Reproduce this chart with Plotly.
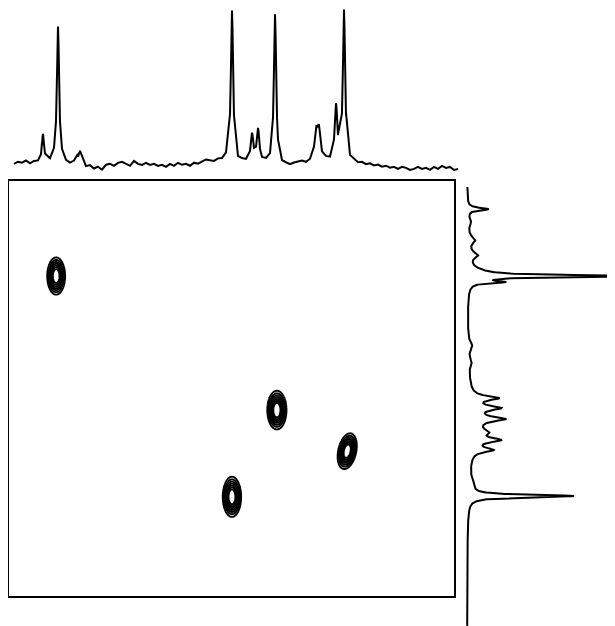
import numpy as np
import plotly.graph_objects as go

# ---------------- data ----------------
# F2 (top) 1D spectrum peak list: position (ppm), height, FWHM (ppm)
top_peak_ppm    = [92.36, 88.99, 84.04, 49.89, 45.39, 44.04, 40.22, 31.01, 30.34, 26.52, 24.72]
top_peak_height = [29, 137, 12, 153, 28, 33, 149, 30, 30, 56, 152]
top_peak_fwhm   = [0.6, 0.6, 1.0, 0.6, 0.7, 0.7, 0.6, 0.8, 0.8, 0.7, 0.6]

# F2 baseline noise, read every ~0.9 ppm from 98.88 to -0.90 ppm
top_baseline = [0, 2, 1, 3, 0, 2, 1, 2, 3, 1, 2, 0, 1, 0, -1, 1, 3, 2, -4, -2,
                -5, -3, -6, -1, 0, -2, 1, 2, 0, -2, 3, 0, -1, 1, -1, 0, -2, -1, -3, 0,
                -2, 1, -1, 0, -2, 1, 0, 2, 4, 3, 2, 4, 3, 4, 2, 1, 0, 2, 1, 0,
                1, -1, 0, 1, 0, 1, -1, -2, -1, -2, 0, 1, 2, 0, 1, 0, 2, 1, 3, 1,
                0, 1, 2, 3, 1, 2, 0, 1, -1, 0, -2, -1, -3, -2, -4, -3, -5, -3, -4, -6,
                -5, -3, -5, -4, -6, -3, -5, -2, -4, -3, -6, -5]
top_baseline_start_ppm = 98.88
top_baseline_end_ppm = -0.90

# F1 (right) projection peak list: position (ppm), height, FWHM (ppm)
side_peak_ppm    = [0.675, 0.988, 1.422, 1.783, 2.193, 2.289, 2.434, 3.952, 4.361,
                    5.880, 5.229, 5.470, 5.735, 6.048, 6.241, 6.482, 7.301, 7.590]
side_peak_height = [21, 3, 7, 9, 10, 165, 30, 4, 3,
                    9, 26, 25, 28, 10, 25, 20, 4, 105]
side_peak_fwhm   = [0.072, 0.19, 0.19, 0.17, 0.24, 0.06, 0.06, 0.19, 0.19,
                    1.2, 0.12, 0.12, 0.12, 0.145, 0.12, 0.12, 0.34, 0.072]
side_start_ppm = 0.145
side_end_ppm = 10.72

# 2D cross peaks: F2 ppm, F1 ppm, widths (sigma, ppm), tilt
cross_f2 = [89.4, 39.8, 24.0, 49.9]
cross_f1 = [2.29, 5.52, 6.51, 7.61]
cross_sig_f2 = [1.12, 1.2, 1.2, 1.15]
cross_sig_f1 = [0.25, 0.26, 0.24, 0.27]
cross_tilt = [0.0, 0.0, 0.3, 0.0]
contour_levels = [0.2, 0.82, 0.1]

# ---------------- helpers ----------------
def lorentz_sum(x, centers, heights, fwhms):
    y = np.zeros_like(x, dtype=float)
    for c, h, w in zip(centers, heights, fwhms):
        g = w / 2.0
        y += h / (1.0 + ((x - c) / g) ** 2)
    return y

# ---------------- layout geometry (pixels in the 615x626 window) ----------------
OFF = 8                      # page body margin
WIN_W, WIN_H = 615, 626
W, H = WIN_W - OFF, WIN_H - OFF
box_l, box_r, box_t, box_b = 9, 454, 181, 596
f2_range = [100.0, 0.0]
f1_range = [10.0, 0.0]
px_per_ppm_x = (box_r - box_l) / (f2_range[0] - f2_range[1])
px_per_ppm_y = (box_b - box_t) / (f1_range[0] - f1_range[1])

def fx(px):
    return (px - OFF) / W

def fy(py):
    return (H - (py - OFF)) / H

def ppm_x_at(px):
    return f2_range[0] - (px - box_l) / px_per_ppm_x

def ppm_y_at(py):
    return f1_range[1] + (py - box_t) / px_per_ppm_y

fig = go.Figure()

# ---------------- top trace ----------------
noise_x = np.linspace(top_baseline_start_ppm, top_baseline_end_ppm, len(top_baseline))
extra = []
for c in top_peak_ppm:
    for off in (-2, -1, -0.5, 0, 0.5, 1, 2):
        extra.append(c + off / px_per_ppm_x)
extra = np.array(extra)
tx = np.concatenate([noise_x, extra])
tn = np.concatenate([np.array(top_baseline, dtype=float), np.zeros(len(extra))])
order = np.argsort(-tx)
tx, tn = tx[order], tn[order]
ty = lorentz_sum(tx, top_peak_ppm, top_peak_height, top_peak_fwhm) + tn
fig.add_trace(go.Scatter(x=tx, y=ty, mode="lines", line=dict(color="black", width=2),
                         xaxis="x2", yaxis="y2", hoverinfo="skip", showlegend=False))

# ---------------- right trace ----------------
sy = np.linspace(side_start_ppm, side_end_ppm, 3000)
sx = lorentz_sum(sy, side_peak_ppm, side_peak_height, side_peak_fwhm)
fig.add_trace(go.Scatter(x=sx, y=sy, mode="lines", line=dict(color="black", width=2),
                         xaxis="x3", yaxis="y3", hoverinfo="skip", showlegend=False))

# ---------------- 2D contours ----------------
for cx, cy, sx2, sy2, rho in zip(cross_f2, cross_f1, cross_sig_f2, cross_sig_f1, cross_tilt):
    gx = np.linspace(cx - 2.6 * sx2, cx + 2.6 * sx2, 71)
    gy = np.linspace(cy - 2.6 * sy2, cy + 2.6 * sy2, 91)
    X, Y = np.meshgrid(gx, gy)
    dx = (X - cx) / sx2
    dy = (Y - cy) / sy2
    Z = np.exp(-(dx ** 2 - 2 * rho * dx * dy + dy ** 2) / (2 * (1 - rho ** 2)))
    fig.add_trace(go.Contour(
        x=gx, y=gy, z=np.round(Z, 4),
        contours=dict(coloring="lines", start=contour_levels[0], end=contour_levels[1],
                      size=contour_levels[2]),
        line=dict(width=1.9),
        colorscale=[[0, "black"], [1, "black"]],
        showscale=False, hoverinfo="skip", xaxis="x", yaxis="y"))

# ---------------- axes ----------------
def hide(**kw):
    d = dict(showgrid=False, zeroline=False, showticklabels=False, ticks="",
             fixedrange=True)
    d.update(kw)
    return d

fig.update_layout(
    width=W, height=H,
    margin=dict(l=0, r=0, t=0, b=0),
    paper_bgcolor="white", plot_bgcolor="rgba(0,0,0,0)",
    showlegend=False,
    xaxis=hide(domain=[fx(box_l), fx(box_r)], range=f2_range,
               showline=True, mirror=True, linecolor="black", linewidth=2),
    yaxis=hide(domain=[fy(box_b), fy(box_t)], range=f1_range,
               showline=True, mirror=True, linecolor="black", linewidth=2),
    xaxis2=hide(domain=[0, 1], range=[ppm_x_at(OFF), ppm_x_at(WIN_W)], anchor="y2"),
    yaxis2=hide(domain=[fy(179), 1], range=[-15, 164 - OFF], anchor="x2"),
    xaxis3=hide(domain=[fx(462), 1], range=[-5, 148], anchor="y3"),
    yaxis3=hide(domain=[0, fy(box_t)], range=[ppm_y_at(WIN_H), ppm_y_at(box_t)], anchor="x3"),
)

fig.write_html("out.html")
